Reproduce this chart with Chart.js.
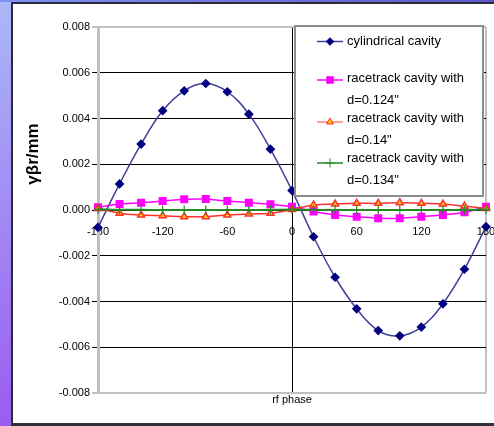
<!DOCTYPE html>
<html>
<head>
<meta charset="utf-8">
<script src="https://cdn.jsdelivr.net/npm/chart.js@4/dist/chart.umd.min.js"></script>
<style>
  body { margin: 0; width: 494px; height: 426px; overflow: hidden; position: relative; background: #fff; }
  .strip-left { position: absolute; left: 0; top: 0; width: 11px; height: 426px;
    background: linear-gradient(to bottom, #aab8f8, #9a5cf0); }
  .strip-top { position: absolute; left: 0; top: 0; width: 494px; height: 2px;
    background: linear-gradient(to right, #8090f0, #5a5ac8); }
  .panel { position: absolute; left: 11px; top: 2px; width: 483px; height: 421px; box-sizing: border-box;
    border-left: 2px solid #2b2b3b; border-top: 2px solid #2b2b3b; background: #fff; }
  .strip-bottom { position: absolute; left: 11px; top: 423px; width: 483px; height: 3px; background: #30303f; }
  canvas { position: absolute; left: 0; top: 0; }
</style>
</head>
<body>
<div class="strip-left"></div>
<div class="strip-top"></div>
<div class="panel"></div>
<div class="strip-bottom"></div>
<canvas id="chart" width="494" height="426"></canvas>
<script>
// rf phase (degrees)
const phase = [-180, -160, -140, -120, -100, -80, -60, -40, -20, 0, 20, 40, 60, 80, 100, 120, 140, 160, 180];

// γβr/mm for each cavity
const cylindrical = [-0.00076, 0.00114, 0.00288, 0.00434, 0.00521, 0.00553, 0.00517, 0.00419, 0.00266, 0.00085,
  -0.00117, -0.00294, -0.00432, -0.00527, -0.0055, -0.00512, -0.0041, -0.00259, -0.00073];
const racetrack124 = [0.00012, 0.00026, 0.00032, 0.00039, 0.00047, 0.00048, 0.00039, 0.00032, 0.00025, 0.00014,
  -0.00007, -0.00022, -0.00029, -0.00036, -0.00036, -0.00029, -0.00022, -0.0001, 0.00014];
const racetrack14 = [0.00007, -0.00014, -0.00022, -0.00025, -0.00029, -0.00029, -0.00022, -0.00017, -0.00014, 0.00002,
  0.00022, 0.00026, 0.00029, 0.00029, 0.00032, 0.00029, 0.00026, 0.00017, 0.00007];
const racetrack134 = [0.00003, 0.00001, 0.00001, 0, 0, 0, 0, 0, 0.00001, 0.00002,
  0.00001, 0, 0, 0, 0, 0, 0, 0.00001, 0.00002];

const seriesNames = [
  ['cylindrical cavity'],
  ['racetrack cavity with', 'd=0.124"'],
  ['racetrack cavity with', 'd=0.14"'],
  ['racetrack cavity with', 'd=0.134"']
];
const xTicks = [-180, -120, -60, 0, 60, 120, 180];
const yTicks = [-0.008, -0.006, -0.004, -0.002, 0, 0.002, 0.004, 0.006, 0.008];
const xTitle = 'rf phase';
const yTitle = 'γβr/mm';

const toPoints = vals => vals.map((v, i) => ({ x: phase[i], y: v }));
const near = (a, b) => Math.abs(a - b) < 1e-9;

// draw a legend marker by hand
function marker(ctx, style, x, y, r, fill, stroke) {
  ctx.beginPath();
  if (style === 'rectRot') {
    ctx.moveTo(x - r, y); ctx.lineTo(x, y - r); ctx.lineTo(x + r, y); ctx.lineTo(x, y + r); ctx.closePath();
  } else if (style === 'rect') {
    const s = r * Math.SQRT1_2;
    ctx.rect(x - s, y - s, 2 * s, 2 * s);
  } else if (style === 'triangle') {
    ctx.moveTo(x - r * 0.87, y + r * 0.5); ctx.lineTo(x, y - r); ctx.lineTo(x + r * 0.87, y + r * 0.5); ctx.closePath();
  } else {
    ctx.moveTo(x - r, y); ctx.lineTo(x + r, y); ctx.moveTo(x, y - r); ctx.lineTo(x, y + r);
  }
  ctx.fillStyle = fill; ctx.strokeStyle = stroke; ctx.lineWidth = 1;
  if (style !== 'cross') ctx.fill();
  ctx.stroke();
}

const extras = {
  id: 'extras',
  afterDraw(chart) {
    const ctx = chart.ctx;
    const area = chart.chartArea;
    ctx.save();
    // legend box
    ctx.fillStyle = '#fff';
    ctx.fillRect(295, 26, 188, 170);
    ctx.strokeStyle = '#8c8c8c';
    ctx.lineWidth = 2;
    ctx.strokeRect(295, 26, 188, 170);
    const symY = [41.5, 80, 122, 163];
    const textY = [41, 78, 118, 158];
    ctx.font = '13px "Liberation Sans", Arial, sans-serif';
    ctx.textBaseline = 'middle';
    ctx.textAlign = 'left';
    chart.data.datasets.forEach((ds, i) => {
      ctx.strokeStyle = ds.legendLine || ds.borderColor;
      ctx.lineWidth = 1.5;
      ctx.beginPath();
      ctx.moveTo(317, symY[i]); ctx.lineTo(343, symY[i]);
      ctx.stroke();
      marker(ctx, ds.pointStyle, 330, symY[i], ds.pointRadius, ds.pointBackgroundColor, ds.pointBorderColor);
      ctx.fillStyle = '#000';
      seriesNames[i].forEach((line, j) => ctx.fillText(line, 347, textY[i] + j * 22));
    });
    // axis titles
    ctx.fillStyle = '#000';
    ctx.font = '11px "Liberation Sans", Arial, sans-serif';
    ctx.textAlign = 'center';
    ctx.fillText(xTitle, (area.left + area.right) / 2, 400);
    ctx.translate(33, 154);
    ctx.rotate(-Math.PI / 2);
    ctx.font = 'bold 17px "Liberation Sans", Arial, sans-serif';
    ctx.fillText(yTitle, 0, 0);
    ctx.restore();
  }
};

new Chart(document.getElementById('chart').getContext('2d'), {
  type: 'line',
  data: {
    datasets: [
      {
        data: toPoints(cylindrical), borderColor: '#40409a', borderWidth: 1.5, tension: 0.4,
        pointStyle: 'rectRot', pointRadius: 3.8, pointBackgroundColor: '#000080', pointBorderColor: '#000080',
        order: 3, clip: false
      },
      {
        data: toPoints(racetrack124), borderColor: '#ff00ff', borderWidth: 1.5, tension: 0.4,
        pointStyle: 'rect', pointRadius: 4.6, pointBackgroundColor: '#ff00ff', pointBorderColor: '#ff00ff',
        order: 2, clip: false
      },
      {
        data: toPoints(racetrack14), borderColor: '#ff3030', legendLine: '#ff8080', borderWidth: 1.5, tension: 0.4,
        pointStyle: 'triangle', pointRadius: 4, pointBackgroundColor: '#ffcc00', pointBorderColor: '#ff3030',
        order: 1, clip: false
      },
      {
        data: toPoints(racetrack134), borderColor: '#228b22', borderWidth: 2, tension: 0.4,
        pointStyle: 'cross', pointRadius: 4.5, pointBackgroundColor: '#228b22', pointBorderColor: '#228b22',
        pointBorderWidth: 1.2, order: 0, clip: false
      }
    ]
  },
  options: {
    responsive: false,
    animation: false,
    layout: { padding: { left: 0, top: 27, right: 8, bottom: 33 } },
    plugins: { legend: { display: false }, tooltip: { enabled: false } },
    scales: {
      x: {
        type: 'linear',
        position: { y: 0 },
        min: -180, max: 180,
        afterBuildTicks: s => { s.ticks = xTicks.map(v => ({ value: v })); },
        afterFit: s => { s.paddingLeft = 0; s.paddingRight = 0; },
        ticks: { color: '#000', font: { size: 11, family: '"Liberation Sans", Arial, sans-serif' }, padding: 15, maxRotation: 0 },
        grid: {
          drawTicks: false,
          color: c => near(c.tick.value, 0) ? '#000' : (Math.abs(c.tick.value) === 180 ? '#c0c0c0' : 'rgba(0,0,0,0)'),
          lineWidth: c => Math.abs(c.tick.value) === 180 ? 2 : 1
        },
        border: { display: true, color: '#000', width: 1 }
      },
      y: {
        position: 'left',
        min: -0.008, max: 0.008,
        afterBuildTicks: s => { s.ticks = yTicks.map(v => ({ value: v })); },
        afterFit: s => { s.width = 98; },
        ticks: {
          color: '#000', font: { size: 11, family: '"Liberation Sans", Arial, sans-serif' }, padding: 2,
          callback: v => v.toFixed(3)
        },
        grid: {
          tickLength: 6,
          color: c => near(Math.abs(c.tick.value), 0.008) ? '#c0c0c0' : '#000',
          lineWidth: c => near(Math.abs(c.tick.value), 0.008) ? 2 : 1
        },
        border: { display: true, color: '#c0c0c0', width: 3 }
      }
    }
  },
  plugins: [extras]
});
</script>
</body>
</html>
